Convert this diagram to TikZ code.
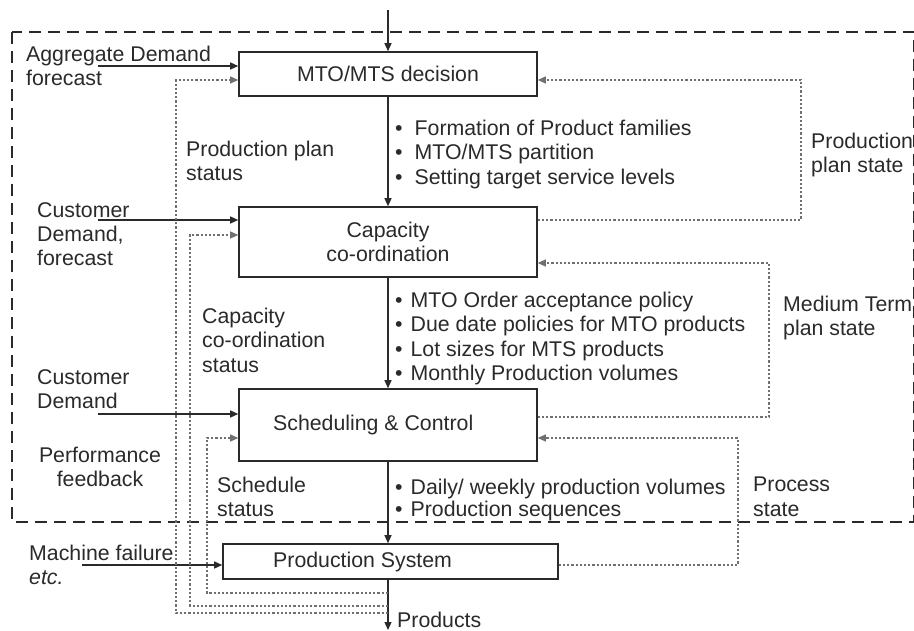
\documentclass[tikz,border=0pt]{standalone}
\usepackage{fontspec}
\setmainfont{Liberation Sans}
\usetikzlibrary{arrows.meta}
\definecolor{ink}{HTML}{2A2A2A}
\definecolor{dotc}{HTML}{707070}
\newcommand{\bl}[1]{\textbullet\hspace{#1}}
\begin{document}
\begin{tikzpicture}[x=1pt,y=-1pt,
  txt/.style={inner sep=0pt, anchor=north west, align=left, text=ink,
    font=\fontsize{21.3}{24.3}\selectfont},
  boxnode/.style={draw=ink, line width=1.6pt, inner sep=0pt, text=ink,
    font=\fontsize{21.3}{24.3}\selectfont, align=center},
  arr/.style={draw=ink, line width=1.3pt, -{Triangle[length=8pt,width=7pt]}},
  fb/.style={draw=dotc, line width=1.3pt, dash pattern=on 2.2pt off 2pt,
    -{Triangle[length=8pt,width=7pt]}},
  outer/.style={draw=ink, line width=2.6pt, dash pattern=on 12pt off 7pt}]
\useasboundingbox (0,0) rectangle (914,631);
\fill[white] (0,0) rectangle (914,631);

% outer dashed frame
\draw[outer] (12,32) rectangle (914,522);

% boxes
\node[boxnode, minimum width=298pt, minimum height=44pt] (mto) at (388,74) {MTO/MTS decision};
\node[boxnode, minimum width=298pt, minimum height=70pt] (cap) at (388,242) {Capacity\\co-ordination};
\node[boxnode, minimum width=298pt, minimum height=72pt] (sch) at (388,425) {};
\node[boxnode, minimum width=335pt, minimum height=35pt] (prod) at (390.5,561.5) {};
\node[txt, anchor=west] (schlab) at (273,425) {Scheduling \& Control};
\node[txt, anchor=west] (prodlab) at (273,561.5) {Production System};

% main flow
\coordinate (top) at (388,10);
\coordinate (bot) at (388,630);
\draw[arr] (top) -- (mto);
\draw[arr] (mto) -- (cap);
\draw[arr] (cap) -- (sch);
\draw[arr] (sch.south) -- (sch.south |- prod.north);
\draw[arr] (prod.south -| sch.south) -- (bot);

% external inputs
\coordinate (ad) at (98,66);
\coordinate (cd1) at (98,220);
\coordinate (cd2) at (98,414);
\coordinate (mf) at (82,565);
\draw[arr] (ad) -- (ad -| mto.west);
\draw[arr] (cd1) -- (cd1 -| cap.west);
\draw[arr] (cd2) -- (cd2 -| sch.west);
\draw[arr] (mf) -- (mf -| prod.west);

% left feedback loops
\coordinate (f1) at (388,613);
\coordinate (f2) at (388,606);
\coordinate (f3) at (388,593);
\coordinate (pp) at (176,80);
\coordinate (cs) at (190,235);
\coordinate (ss) at (207,438);
\draw[fb] (f1) -| (pp) -- (pp -| mto.west);
\draw[fb] (f2) -| (cs) -- (cs -| cap.west);
\draw[fb] (f3) -| (ss) -- (ss -| sch.west);

% right feedback loops
\coordinate (r1) at (801,220);
\coordinate (r1t) at (801,80);
\coordinate (r2) at (769,417);
\coordinate (r2t) at (769,263);
\coordinate (r3) at (738,565);
\coordinate (r3t) at (738,438);
\draw[fb] (r1 -| cap.east) -- (r1) -- (r1t) -- (r1t -| mto.east);
\draw[fb] (r2 -| sch.east) -- (r2) -- (r2t) -- (r2t -| cap.east);
\draw[fb] (r3 -| prod.east) -- (r3) -- (r3t) -- (r3t -| sch.east);

% labels
\node[txt] (t1) at (26,46) {Aggregate Demand\\forecast};
\node[txt] (t2) at (186,141) {Production plan\\status};
\node[txt] (b1) at (395,120) {\bl{12pt}Formation of Product families\\\bl{12pt}MTO/MTS partition\\\bl{12pt}Setting target service levels};
\node[txt] (t3) at (811,133) {Production\\plan state};
\node[txt] (t4) at (37,202) {Customer\\Demand,\\forecast};
\node[txt] (b2) at (395,292) {\bl{8pt}MTO Order acceptance policy\\\bl{8pt}Due date policies for MTO products\\\bl{8pt}Lot sizes for MTS products\\\bl{8pt}Monthly Production volumes};
\node[txt] (t5) at (202,308) {Capacity\\co-ordination\\status};
\node[txt] (t6) at (783,296) {Medium Term\\plan state};
\node[txt] (t7) at (37,369) {Customer\\Demand};
\node[txt, anchor=north, align=center] (t8) at (100,447) {Performance\\feedback};
\node[txt] (t9) at (217,477) {Schedule\\status};
\node[txt, font=\fontsize{21.3}{21.5}\selectfont] (b3) at (395,479) {\bl{8pt}Daily/ weekly production volumes\\\bl{8pt}Production sequences};
\node[txt] (t10) at (753,477) {Process\\state};
\node[txt] (t11) at (29,545) {Machine failure\\\textit{etc.}};
\node[txt] (t12) at (397,612) {Products};
\end{tikzpicture}
\end{document}
